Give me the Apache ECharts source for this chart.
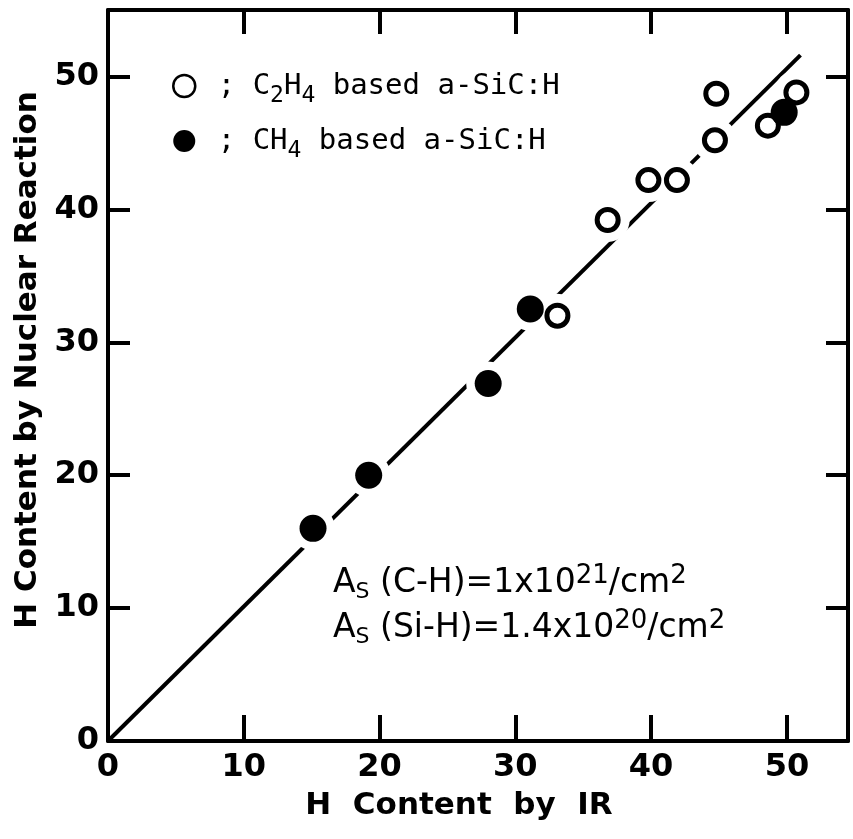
<!DOCTYPE html>
<html>
<head>
<meta charset="utf-8">
<script src="https://cdn.jsdelivr.net/npm/echarts@6/dist/echarts.min.js"></script>
<style>
  html, body { margin: 0; padding: 0; background: #fff; }
  #chart { width: 853px; height: 839px; }
</style>
</head>
<body>
<div id="chart"></div>
<script>
// C2H4 based a-SiC:H (open circles): [H by IR, H by nuclear reaction]
const c2h4Points = [
  [33.1, 32.0], [36.8, 39.2], [39.8, 42.2], [41.9, 42.2],
  [44.7, 45.2], [44.8, 48.7], [48.6, 46.3], [50.7, 48.8],
];
// CH4 based a-SiC:H (filled circles)
const ch4Points = [
  [15.1, 16.0], [19.2, 20.0], [28.0, 26.9], [31.1, 32.5], [49.8, 47.3],
];
// fitted line y = x
const fitLine = [[0, 0], [51.0, 51.6]];

const xRange = [0, 54.5];
const yRange = [0, 55];
const tickStep = 10;

const legendLabels = {
  C2H4: " ; C{sub|2}H{sub|4} based a-SiC:H",
  CH4: " ; CH{sub|4} based a-SiC:H",
};

const tickFont = { fontFamily: "DejaVu Sans", fontWeight: "bold", fontSize: 32, color: "#000" };

// only the multiples of 10 get a label
const tickLabel = (v) => (v % tickStep === 0 ? String(v) : "");

const baseAxis = {
  min: 0,
  interval: tickStep,
  axisLine: { show: true, onZero: false, lineStyle: { color: "#000", width: 4 } },
  axisTick: { show: true, inside: true, length: 24, lineStyle: { color: "#000", width: 4 } },
  splitLine: { show: false },
};

const richNote = {
  s: { fontFamily: "DejaVu Sans", fontSize: 22, verticalAlign: "bottom" },
  p: { fontFamily: "DejaVu Sans", fontSize: 26, verticalAlign: "top" },
};

const option = {
  backgroundColor: "#fff",
  animation: false,
  grid: { left: 108, right: 5, top: 10, bottom: 98 },
  legend: {
    orient: "vertical",
    left: 167,
    top: 59,
    itemGap: 11,
    itemWidth: 22,
    itemHeight: 22,
    icon: "circle",
    data: [
      { name: "C2H4", itemStyle: { color: "#fff", borderColor: "#000", borderWidth: 2.5 } },
      { name: "CH4", itemStyle: { color: "#000" } },
    ],
    formatter: (name) => legendLabels[name],
    textStyle: {
      fontFamily: "DejaVu Sans Mono",
      fontSize: 29,
      lineHeight: 44,
      color: "#000",
      rich: {
        sub: { fontFamily: "DejaVu Sans Mono", fontSize: 23, verticalAlign: "bottom", color: "#000" },
      },
    },
  },
  xAxis: [
    {
      ...baseAxis,
      type: "value",
      max: xRange[1],
      position: "bottom",
      axisTick: { ...baseAxis.axisTick, length: 26 },
      axisLabel: { ...tickFont, margin: 11, formatter: tickLabel },
    },
    {
      ...baseAxis,
      type: "value",
      max: xRange[1],
      position: "top",
      axisLabel: { show: false },
    },
  ],
  yAxis: [
    {
      ...baseAxis,
      type: "value",
      max: yRange[1],
      position: "left",
      axisTick: { ...baseAxis.axisTick, length: 22 },
      axisLabel: { ...tickFont, margin: 9, formatter: tickLabel },
    },
    {
      ...baseAxis,
      type: "value",
      max: yRange[1],
      position: "right",
      axisTick: { ...baseAxis.axisTick, length: 22 },
      axisLabel: { show: false },
    },
  ],
  series: [
    {
      name: "fit",
      type: "line",
      data: fitLine,
      symbol: "none",
      lineStyle: { color: "#000", width: 4 },
      z: 1,
    },
    {
      // white halo so the line breaks around each marker
      name: "halo",
      type: "scatter",
      data: c2h4Points.concat(ch4Points),
      symbolSize: 44,
      itemStyle: { color: "#fff", opacity: 1 },
      silent: true,
      z: 2,
    },
    {
      name: "C2H4",
      type: "scatter",
      data: c2h4Points,
      symbol: "circle",
      symbolSize: 21,
      itemStyle: { color: "#fff", borderColor: "#000", borderWidth: 5, opacity: 1 },
      z: 3,
    },
    {
      name: "CH4",
      type: "scatter",
      data: ch4Points,
      symbol: "circle",
      symbolSize: 27,
      itemStyle: { color: "#000", opacity: 1 },
      z: 4,
    },
  ],
  graphic: [
    {
      type: "text",
      x: 459,
      y: 806,
      style: {
        text: "H  Content  by  IR",
        font: "bold 31px 'DejaVu Sans'",
        fill: "#000",
        align: "center",
        verticalAlign: "middle",
      },
    },
    {
      type: "text",
      x: 28,
      y: 360,
      rotation: Math.PI / 2,
      style: {
        text: "H Content by Nuclear Reaction",
        font: "bold 31px 'DejaVu Sans'",
        fill: "#000",
        align: "center",
        verticalAlign: "middle",
      },
    },
    {
      type: "text",
      x: 333,
      y: 563,
      style: {
        text: "A{s|S} (C-H)=1x10{p|21}/cm{p|2}",
        fontFamily: "DejaVu Sans",
        fontSize: 33,
        lineHeight: 40,
        fill: "#000",
        rich: richNote,
      },
    },
    {
      type: "text",
      x: 333,
      y: 608,
      style: {
        text: "A{s|S} (Si-H)=1.4x10{p|20}/cm{p|2}",
        fontFamily: "DejaVu Sans",
        fontSize: 33,
        lineHeight: 40,
        fill: "#000",
        rich: richNote,
      },
    },
  ],
};

const chart = echarts.init(document.getElementById("chart"), null, { renderer: "canvas" });
chart.setOption(option);
</script>
</body>
</html>
